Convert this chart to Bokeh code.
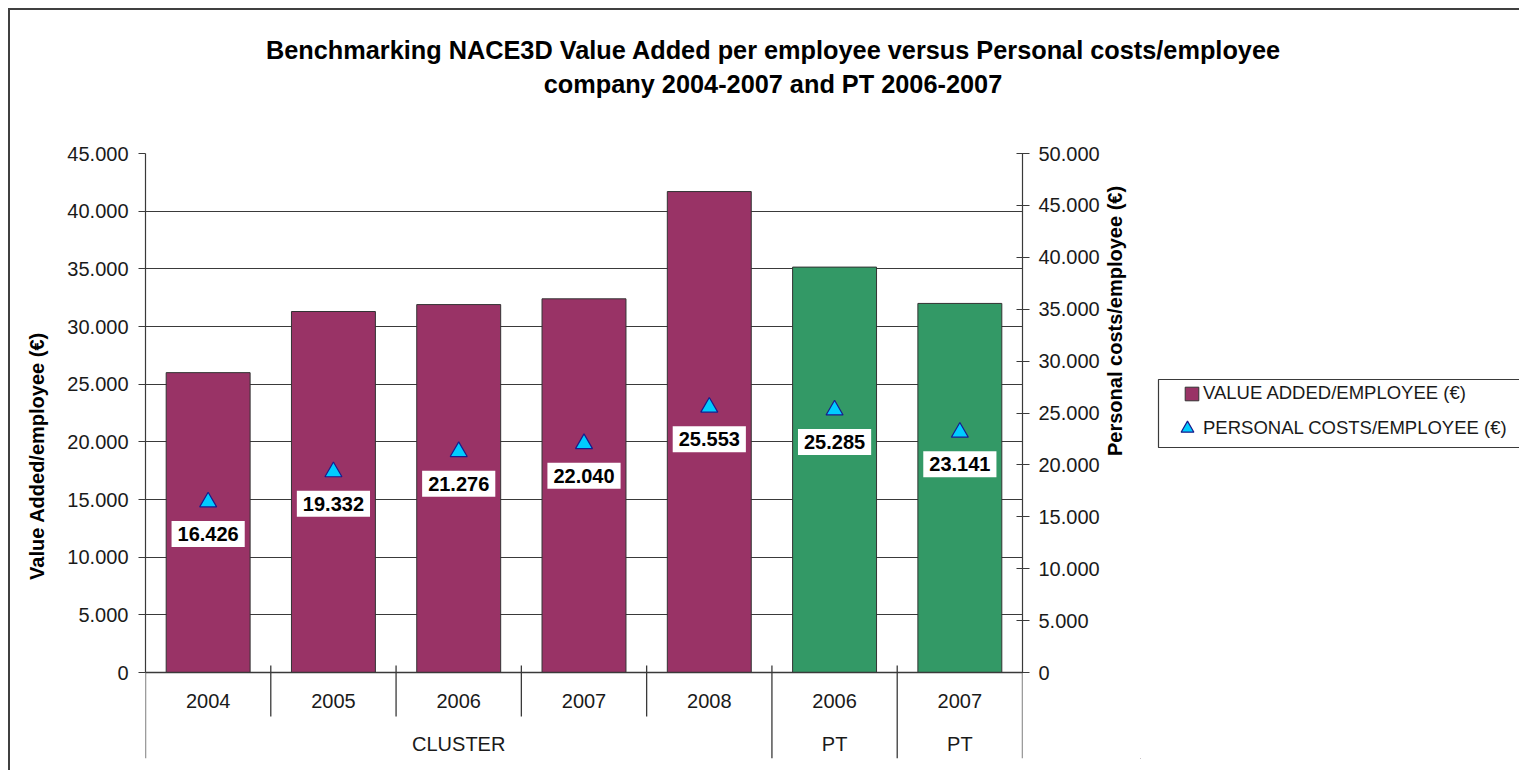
import math
import numpy as np
from bokeh.plotting import figure
from bokeh.layouts import row, column
from bokeh.models import (FactorRange, Range1d, LinearAxis, FixedTicker, CustomJSTickFormatter,
                          Legend, LegendItem, Span, ColumnDataSource, Div)
from bokeh.core.properties import value
from bokeh.embed import file_html
from bokeh.resources import INLINE

# ---------------- data ----------------
group_labels = ["CLUSTER", "PT", "PT"]
group_sizes = [5, 1, 1]
years = ["2004", "2005", "2006", "2007", "2008", "2006", "2007"]
value_added = [26000, 31300, 31900, 32400, 41700, 35150, 32000]
personal_costs = [16426, 19332, 21276, 22040, 25553, 25285, 23141]
left_ticks = [0, 5000, 10000, 15000, 20000, 25000, 30000, 35000, 40000, 45000]
right_ticks = [0, 5000, 10000, 15000, 20000, 25000, 30000, 35000, 40000, 45000, 50000]
title_line1 = "Benchmarking NACE3D Value Added per employee versus Personal costs/employee"
title_line2 = "company 2004-2007 and PT 2006-2007"
y_left_label = "Value Added/employee (€)"
y_right_label = "Personal costs/employee (€)"
series_names = ["VALUE ADDED/EMPLOYEE (€)", "PERSONAL COSTS/EMPLOYEE (€)"]
group_colors = {"CLUSTER": "#993366", "PT": "#339966"}
TRI_FILL, TRI_LINE = "#00CCFF", "#1a1a8c"

groups = [g for g, n in zip(group_labels, group_sizes) for _ in range(n)]
keys = [f"{g} {y}" for g, y in zip(groups, years)]
pc_labels = [f"{v:,}".replace(",", ".") for v in personal_costs]

# ---------------- layout ----------------
FONT = "Liberation Sans"
W_TOTAL = 1509
H_TITLE = 131
H = 629
W1 = 1130
W2 = W_TOTAL - W1
LEFT, TOP, BOTTOM = 135, 12, 12
FRAME_W = 877
PLOT_H = 519
FRAME_H = H - TOP - BOTTOM
L_MAX, R_MAX = 45000, 50000
l_min = -(FRAME_H - PLOT_H) / PLOT_H * L_MAX
r_min = -(FRAME_H - PLOT_H) / PLOT_H * R_MAX
px = L_MAX / PLOT_H
DARK = "#3a3a3a"

# ---------------- title ----------------
title_div = Div(
    text=(f'<div style="box-sizing:border-box; width:{W_TOTAL}px; font-family:\'{FONT}\'; '
          f'font-weight:bold; font-size:25.3px; line-height:34px; text-align:center; '
          f'color:#000; padding-top:23px; padding-left:17px; white-space:nowrap;">'
          f'{title_line1}<br>{title_line2}</div>'),
    width=W_TOTAL, height=H_TITLE, margin=0)

# ---------------- main chart ----------------
p = figure(width=W1, height=H, title=None,
           x_range=FactorRange(factors=keys, range_padding=0, factor_padding=0),
           y_range=Range1d(l_min, L_MAX),
           output_backend="svg", toolbar_location=None, x_axis_location=None,
           min_border_left=LEFT, min_border_top=TOP, min_border_bottom=BOTTOM,
           min_border_right=W1 - LEFT - FRAME_W,
           outline_line_color=None, background_fill_color="white", border_fill_color="white")
p.extra_y_ranges = {"right": Range1d(r_min, R_MAX)}

fmt = CustomJSTickFormatter(code=r"return Math.round(tick).toString().replace(/\B(?=(\d{3})+(?!\d))/g, '.');")

p.xgrid.visible = False
p.ygrid.ticker = FixedTicker(ticks=left_ticks)
p.ygrid.grid_line_color = DARK
p.ygrid.grid_line_width = 1

ya = p.yaxis[0]
ya.ticker = FixedTicker(ticks=left_ticks)
ya.formatter = fmt
ya.bounds = (0, L_MAX)
ya.axis_label = y_left_label
ya.axis_label_text_font = FONT
ya.axis_label_text_font_size = "20px"
ya.axis_label_text_font_style = "bold"
ya.axis_label_text_color = "black"
ya.axis_label_standoff = 16
ya.major_label_text_font = FONT
ya.major_label_text_font_size = "20px"
ya.major_label_text_color = "#1a1a1a"
ya.major_label_standoff = 10
ya.major_tick_in = 0
ya.major_tick_out = 7
ya.minor_tick_line_color = None
ya.axis_line_color = DARK
ya.major_tick_line_color = DARK
ya.axis_line_width = 1.2

ra = LinearAxis(y_range_name="right", ticker=FixedTicker(ticks=right_ticks), formatter=fmt,
                bounds=(0, R_MAX), axis_label=y_right_label,
                axis_label_orientation=math.pi / 2,
                axis_label_text_font=FONT, axis_label_text_font_size="20px",
                axis_label_text_font_style="bold", axis_label_text_color="black",
                axis_label_standoff=12,
                major_label_text_font=FONT, major_label_text_font_size="20px",
                major_label_text_color="#1a1a1a", major_label_standoff=9,
                major_tick_in=6, major_tick_out=7, minor_tick_line_color=None,
                axis_line_color=DARK, major_tick_line_color=DARK, axis_line_width=1.2)
p.add_layout(ra, "right")

src = ColumnDataSource(dict(x=keys, top=value_added, color=[group_colors[g] for g in groups],
                            pc=personal_costs, lab=pc_labels))
bars = p.vbar(x="x", top="top", bottom=0, width=0.67, fill_color="color",
              line_color="#333333", line_width=1, source=src)

p.add_layout(Span(location=0, dimension="width", line_color=DARK, line_width=1.3))

tri = p.scatter(x="x", y="pc", y_range_name="right", marker="triangle", size=17,
                fill_color=TRI_FILL, line_color=TRI_LINE, line_width=1.2, source=src)

p.text(x="x", y="pc", text="lab", y_range_name="right", y_offset=32,
       text_align="center", text_baseline="middle", text_font=value(FONT),
       text_font_size="20px", text_font_style="bold", text_color="black",
       background_fill_color="white", padding=6, source=src)

# two-level category axis
p.text(x=keys, y=[0] * len(keys), text=years, y_offset=28, text_align="center",
       text_baseline="middle", text_font=value(FONT), text_font_size="20px", text_color="#1a1a1a")

starts = np.cumsum([0] + group_sizes[:-1])
gx = []
for s, n in zip(starts, group_sizes):
    c = s + (n - 1) / 2
    i = int(math.floor(c))
    gx.append([keys[i], float(c - i)])
p.text(x=gx, y=[0] * len(gx), text=group_labels, y_offset=71, text_align="center",
       text_baseline="middle", text_font=value(FONT), text_font_size="20px", text_color="#1a1a1a")

group_bounds = set(np.cumsum([0] + group_sizes).tolist())
n = len(keys)
sx, sy0, sy1 = [], [], []
for b in range(n + 1):
    sx.append([keys[b], -0.5] if b < n else [keys[n - 1], 0.5])
    if b in (0, n):
        sy0.append(0.0)
        sy1.append(l_min)
    elif b in group_bounds:
        sy0.append(7 * px)
        sy1.append(l_min)
    else:
        sy0.append(7 * px)
        sy1.append(-44 * px)
p.segment(x0="x", y0="y0", x1="x", y1="y1",
          source=ColumnDataSource(dict(x=sx, y0=sy0, y1=sy1)), line_color=DARK, line_width=1.3)

# ---------------- legend panel (screen-pixel coordinates) ----------------
q = figure(width=W2, height=H, x_range=Range1d(0, W2), y_range=Range1d(0, FRAME_H),
           output_backend="svg", toolbar_location=None, x_axis_location=None,
           y_axis_location=None, min_border_left=0, min_border_right=0,
           min_border_top=TOP, min_border_bottom=BOTTOM, outline_line_color=None,
           background_fill_color="white", border_fill_color="white")
q.grid.visible = False
q.quad(left=[18], right=[W2 + 10], bottom=[311], top=[379], fill_color="white",
       line_color=DARK, line_width=1.2)
# proxy renderers for the legend swatches (kept outside the visible range)
lg_bar = q.vbar(x=[-500], top=[-400], bottom=-450, width=1,
                fill_color=group_colors["CLUSTER"], line_color="#333333")
lg_tri = q.scatter(x=[-500], y=[-500], marker="triangle", fill_color=TRI_FILL,
                   line_color=TRI_LINE, line_width=1.2)
common = dict(orientation="vertical", margin=0, padding=0, spacing=0, label_height=20,
              label_text_font=FONT, label_text_font_size="18.5px", label_text_color="#1a1a1a",
              border_line_color=None, background_fill_alpha=0)
leg_a = Legend(items=[LegendItem(label=series_names[0], renderers=[lg_bar])],
               location=(43, 354), glyph_width=17, glyph_height=17, label_standoff=3, **common)
leg_b = Legend(items=[LegendItem(label=series_names[1], renderers=[lg_tri])],
               location=(31, 314), glyph_width=32, glyph_height=32, label_standoff=0, **common)
q.add_layout(leg_a)
q.add_layout(leg_b)

layout = column(title_div, row(p, q),
                styles={"margin-left": "8px", "margin-top": "8px",
                        "border-left": "2px solid #404040",
                        "border-top": "2px solid #404040"})

open("out.html", "w").write(file_html(layout, INLINE))
